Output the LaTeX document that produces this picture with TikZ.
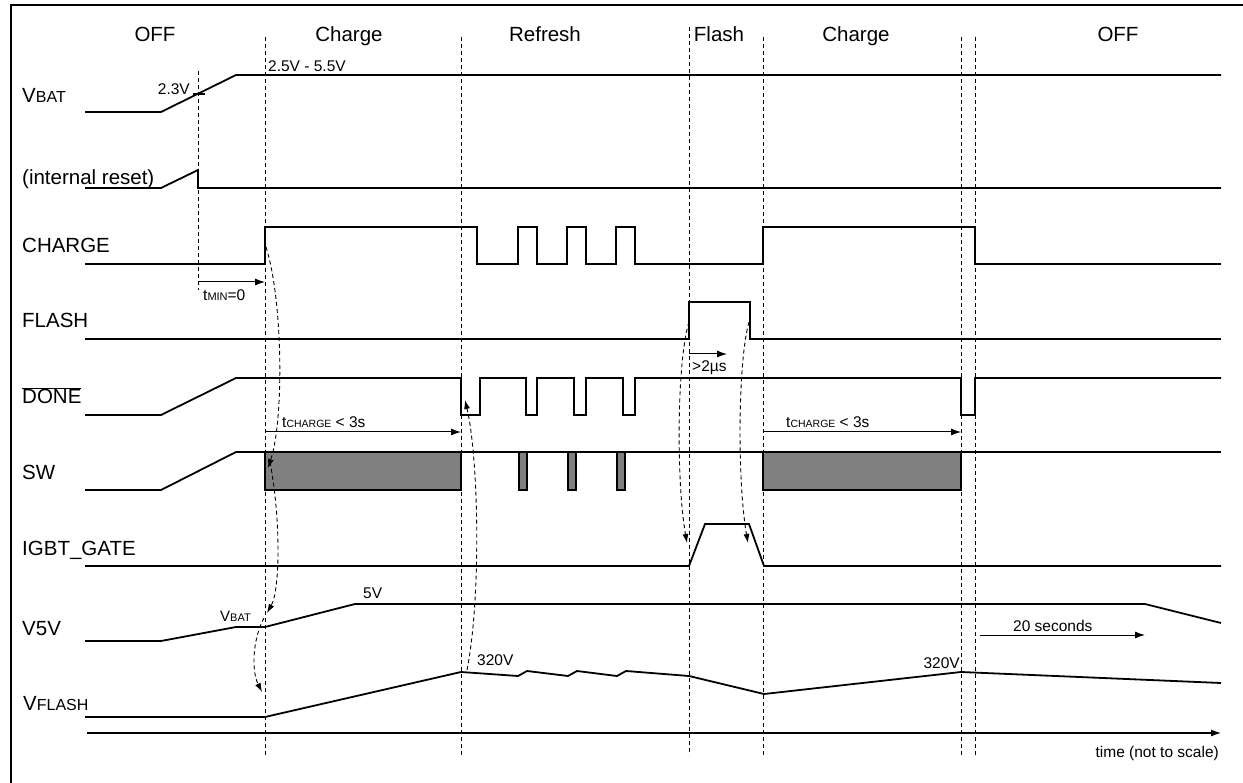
\documentclass[tikz,border=0pt]{standalone}
\usepackage{fontspec}
\setmainfont{Liberation Sans}
\usetikzlibrary{arrows.meta, positioning}
\definecolor{swGray}{HTML}{808080}
\newcommand{\lo}[2]{{\fontsize{#1}{#1}\selectfont #2}}

\begin{document}
\begin{tikzpicture}[
    x=1pt, y=-1pt,
    sig/.style={line width=1.8pt, line join=miter},
    hair/.style={line width=1.2pt},
    guide/.style={line width=0.9pt, dash pattern=on 4pt off 3pt},
    signame/.style={anchor=base west, inner sep=0pt, font=\fontsize{20.5}{24}\selectfont},
    phase/.style={anchor=base, inner sep=0pt, font=\fontsize{20.5}{24}\selectfont},
    note/.style={anchor=base west, inner sep=0pt, font=\fontsize{15.5}{18}\selectfont},
    arrow/.style={-{Latex[length=10pt, width=7pt]}, line width=1pt},
    cause/.style={-{Latex[length=9pt, width=6pt]}, line width=0.9pt, dash pattern=on 4pt off 3pt},
    blk/.style={fill=swGray, draw=black, line width=1.2pt}
]
    \useasboundingbox (0,0) rectangle (1243,783);
    \draw[line width=2.5pt] (11,783) -- (11,5) -- (1243,5);

    % Phases
    \node[phase] (off1) at (155,42) {OFF};
    \node[phase] (chg1) at (349,42) {Charge};
    \node[phase] (refr) at (545,42) {Refresh};
    \node[phase] (fla) at (719,42) {Flash};
    \node[phase] (chg2) at (856,42) {Charge};
    \node[phase] (off2) at (1118,42) {OFF};

    % Guides
    \draw[guide] (198,71) -- (198,290);
    \draw[guide] (265,37) -- (265,755);
    \draw[guide] (461,37) -- (461,755);
    \draw[guide] (689,27) -- (689,755);
    \draw[guide] (763,37) -- (763,755);
    \draw[guide] (961,37) -- (961,755);
    \draw[guide] (975,37) -- (975,755);

    % Signal names
    \node[signame] (vbat) at (22,103) {V\lo{16}{BAT}};
    \node[signame] (rst) at (22,185) {(internal reset)};
    \node[signame] (charge) at (22,253) {CHARGE};
    \node[signame] (flash) at (22,328) {FLASH};
    \node[signame] (done) at (22,404) {$\overline{\mbox{DONE}}$};
    \node[signame] (sw) at (22,479) {SW};
    \node[signame] (igbt) at (22,555) {IGBT\_GATE};
    \node[signame] (vfive) at (22,635) {V5V};
    \node[signame] (vflash) at (23,710) {V\lo{16}{FLASH}};

    % Waveforms
    \draw[sig] (85,112) -- (161,112) -- (236,75) -- (1221,75);
    \draw[hair] (193,94) -- (205,94);
    \draw[sig] (85,188) -- (161,188) -- (198,170) -- (198,188) -- (1221,188);
    \draw[sig] (85,264) -- (265,264) -- (265,227) -- (477,227) -- (477,264)
        -- (518,264) -- (518,227) -- (537,227) -- (537,264)
        -- (567,264) -- (567,227) -- (586,227) -- (586,264)
        -- (616,264) -- (616,227) -- (635,227) -- (635,264)
        -- (763,264) -- (763,227) -- (975,227) -- (975,264) -- (1221,264);
    \draw[sig] (85,339) -- (689,339) -- (689,302) -- (750,302) -- (750,339) -- (1221,339);
    \draw[sig] (85,415) -- (161,415) -- (236,378) -- (461,378) -- (461,415)
        -- (480,415) -- (480,378) -- (526,378) -- (526,415)
        -- (537,415) -- (537,378) -- (574,378) -- (574,415)
        -- (586,415) -- (586,378) -- (623,378) -- (623,415)
        -- (635,415) -- (635,378) -- (961,378) -- (961,415)
        -- (975,415) -- (975,378) -- (1221,378);
    \draw[sig] (85,490) -- (161,490) -- (236,452) -- (265,452);
    \draw[hair] (265,452) -- (1221,452);
    \draw[blk] (265,452) rectangle (461,490);
    \draw[blk] (519,452) rectangle (527,490);
    \draw[blk] (568,452) rectangle (576,490);
    \draw[blk] (617,452) rectangle (625,490);
    \draw[blk] (763,452) rectangle (961,490);
    \draw[sig] (85,566) -- (689,566) -- (705,524) -- (749,524) -- (764,566) -- (1221,566);
    \draw[sig] (85,641) -- (161,641) -- (236,627) -- (265,627) -- (355,604) -- (1145,604) -- (1221,623);
    \draw[sig] (85,717) -- (265,717) -- (461,672) -- (518,676) -- (527,671) -- (568,676)
        -- (577,671) -- (617,676) -- (626,671) -- (689,676) -- (764,694) -- (961,672) -- (1221,683);

    % Levels
    \node[note, anchor=base east] (l23) at (190,95) {2.3V};
    \node[note] (lrange) at (268,72) {2.5V - 5.5V};
    \node[note, font=\fontsize{15}{18}\selectfont] (lvb) at (220,621) {V\lo{11}{BAT}};
    \node[note] (l5v) at (363,598) {5V};
    \node[note] (l320a) at (477,665) {320V};
    \node[note, anchor=base east] (l320b) at (960,668) {320V};

    % Timing
    \coordinate (tmin0) at (198,282);
    \coordinate (tmin1) at (265,282);
    \draw[arrow] (tmin0) -- (tmin1);
    \node[note] (tmin) at (203,301) {t\lo{11}{MIN}=0};
    \coordinate (pw0) at (689,354);
    \coordinate (pw1) at (727,354);
    \draw[arrow] (pw0) -- (pw1);
    \node[note] (pw) at (692,372) {>2µs};
    \coordinate (tc0) at (265,432);
    \coordinate (tc1) at (461,432);
    \draw[arrow] (tc0) -- (tc1);
    \node[note] (tca) at (282,428) {t\lo{10.5}{CHARGE} < 3s};
    \coordinate (tc2) at (763,432);
    \coordinate (tc3) at (961,432);
    \draw[arrow] (tc2) -- (tc3);
    \node[note] (tcb) at (786,428) {t\lo{10.5}{CHARGE} < 3s};
    \coordinate (off0) at (980,635);
    \coordinate (off1e) at (1145,635);
    \draw[arrow] (off0) -- (off1e);
    \node[note] (secs) at (1013,631) {20 seconds};

    % Causes
    \coordinate (e1) at (266,247);
    \coordinate (e2) at (268,468);
    \coordinate (e3) at (270,462);
    \coordinate (e4) at (267,613);
    \coordinate (e5) at (264,618);
    \coordinate (e6) at (262,692);
    \coordinate (e7) at (467,670);
    \coordinate (e8) at (465,400);
    \coordinate (e9) at (689,322);
    \coordinate (e10) at (687,543);
    \coordinate (e11) at (749,322);
    \coordinate (e12) at (748,543);
    \draw[cause] (e1) .. controls (283,300) and (284,420) .. (e2);
    \draw[cause] (e3) .. controls (281,520) and (280,590) .. (e4);
    \draw[cause] (e5) .. controls (253,638) and (251,670) .. (e6);
    \draw[cause] (e7) .. controls (481,600) and (479,460) .. (e8);
    \draw[cause] (e9) .. controls (677,360) and (676,480) .. (e10);
    \draw[cause] (e11) .. controls (738,360) and (737,480) .. (e12);

    % Time axis
    \coordinate (t0) at (87,733);
    \coordinate (t1) at (1221,733);
    \draw[hair, -{Latex[length=10pt, width=7pt]}] (t0) -- (t1);
    \node[note, anchor=base east] (taxis) at (1219,757) {time (not to scale)};
\end{tikzpicture}
\end{document}
